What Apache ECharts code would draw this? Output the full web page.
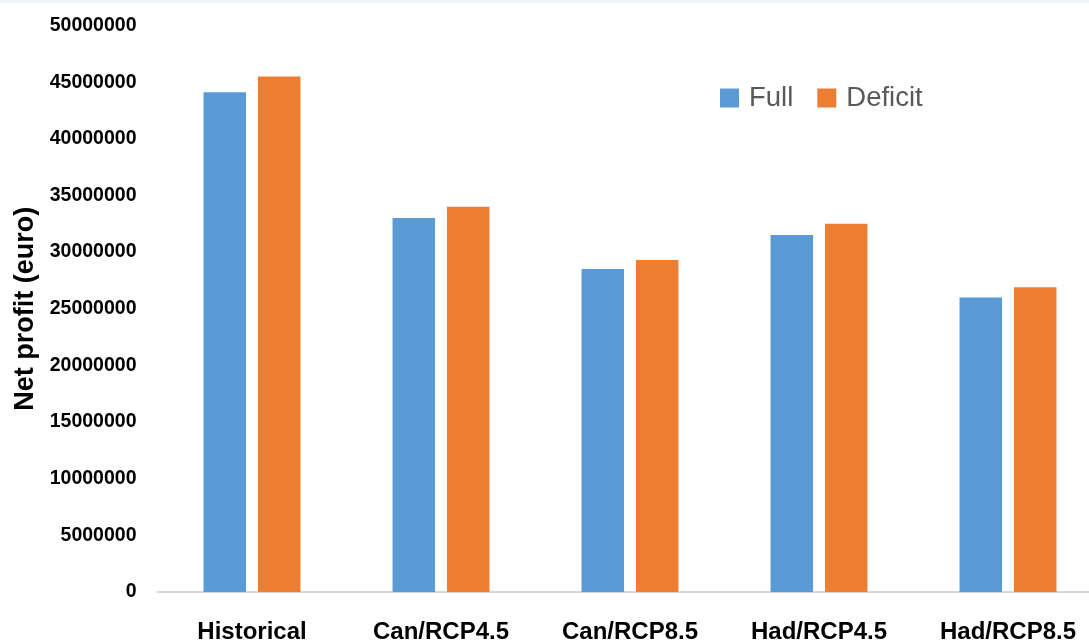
<!DOCTYPE html>
<html>
<head>
<meta charset="utf-8">
<style>
  html, body { margin: 0; padding: 0; background: #ffffff; overflow: hidden; }
  #chart { width: 1110px; height: 644px; }
</style>
<script src="https://cdn.jsdelivr.net/npm/echarts@6/dist/echarts.min.js"></script>
</head>
<body>
<div id="chart"></div>
<script>
// Scenario categories
const categories = ['Historical', 'Can/RCP4.5', 'Can/RCP8.5', 'Had/RCP4.5', 'Had/RCP8.5'];
// Net profit (euro) under full and deficit irrigation
const fullValues = [44100000, 33000000, 28500000, 31500000, 26000000];
const deficitValues = [45500000, 34000000, 29300000, 32500000, 26900000];
const seriesNames = ['Full', 'Deficit'];
const yAxisTitle = 'Net profit (euro)';

const chart = echarts.init(document.getElementById('chart'), null, { renderer: 'canvas' });

const baseFont = '"Liberation Sans", Arial, sans-serif';

chart.setOption({
  animation: false,
  backgroundColor: '#ffffff',
  color: ['#5B9BD5', '#ED7D31'],
  graphic: [{
    type: 'rect',
    left: 0, top: 0,
    shape: { width: 1110, height: 3 },
    style: { fill: '#eef5fc' },
    silent: true
  }],
  legend: {
    data: seriesNames,
    left: 715,
    top: 79,
    itemWidth: 19,
    itemHeight: 19,
    itemGap: 24,
    icon: 'rect',
    textStyle: {
      color: '#595959',
      fontFamily: baseFont,
      fontSize: 27.5,
      padding: [0, 0, 0, 5]
    }
  },
  grid: {
    left: 157.5,
    top: 25.5,
    width: 945,
    bottom: 51.5,
    containLabel: false
  },
  xAxis: {
    type: 'category',
    data: categories,
    axisLine: { show: true, lineStyle: { color: '#d9d9d9', width: 2 } },
    axisTick: { show: false },
    axisLabel: {
      color: '#000000',
      fontFamily: baseFont,
      fontWeight: 'bold',
      fontSize: 24,
      margin: 28,
      interval: 0
    },
    splitLine: { show: false }
  },
  yAxis: {
    type: 'value',
    min: 0,
    max: 50000000,
    interval: 5000000,
    name: yAxisTitle,
    nameLocation: 'middle',
    nameGap: 116,
    nameRotate: 90,
    nameTextStyle: {
      color: '#000000',
      fontFamily: baseFont,
      fontWeight: 'bold',
      fontSize: 27
    },
    axisLine: { show: false },
    axisTick: { show: false },
    splitLine: { show: false },
    axisLabel: {
      color: '#000000',
      fontFamily: baseFont,
      fontWeight: 'bold',
      fontSize: 19.5,
      margin: 21,
      formatter: function (v) { return String(v); }
    }
  },
  series: [
    {
      name: seriesNames[0],
      type: 'bar',
      data: fullValues,
      barWidth: 42.5,
      barGap: '28%'
    },
    {
      name: seriesNames[1],
      type: 'bar',
      data: deficitValues,
      barWidth: 42.5,
      barGap: '28%'
    }
  ]
});
</script>
</body>
</html>
